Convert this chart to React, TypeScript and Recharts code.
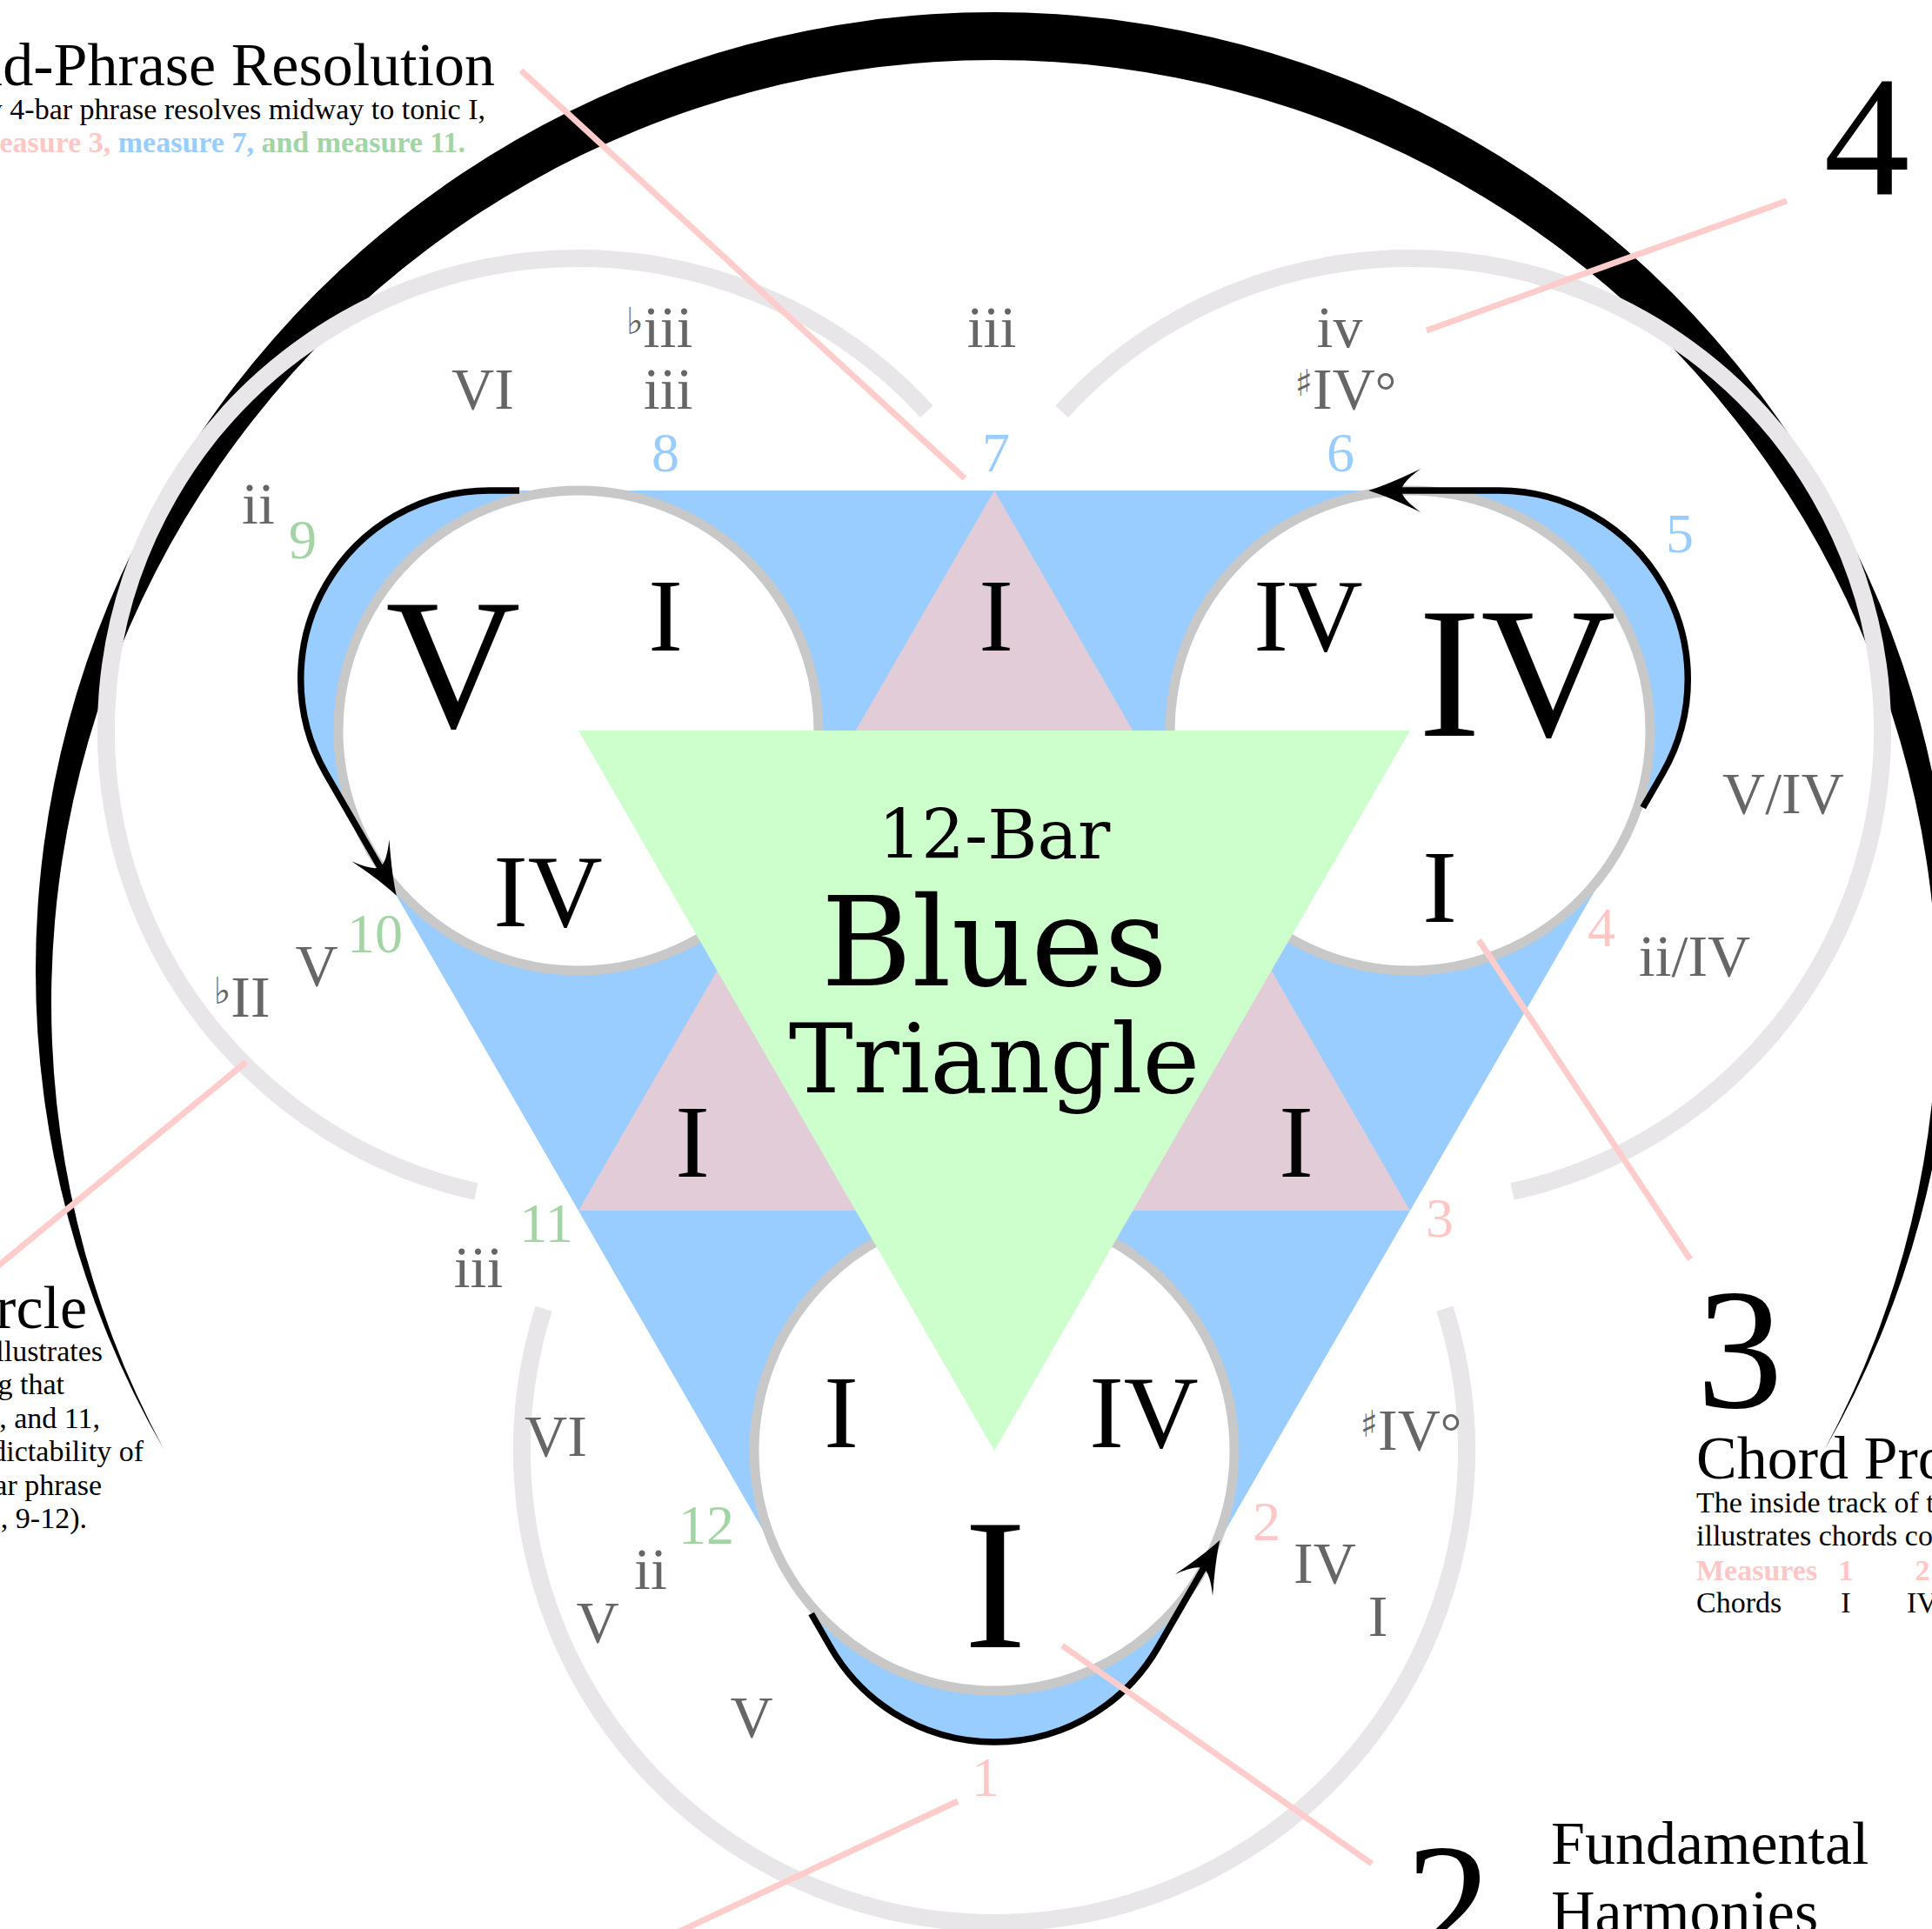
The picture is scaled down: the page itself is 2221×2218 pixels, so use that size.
import React from 'react';
import { ScatterChart, Scatter, XAxis, YAxis } from 'recharts';

const W = 2221;
const H = 2218;

const SERIF = "'Liberation Serif', 'Times New Roman', serif";
const TITLE_SERIF = "'DejaVu Serif', Georgia, serif";
const SYMBOLS = "'DejaVu Sans', sans-serif";

const INK = '#000000';
const GREY_TEXT = '#666666';
const TRACK = '#e8e6e8';
const RING = '#c8c8c8';
const BLUE = '#99ccff';
const MAUVE = '#e1ccd8';
const MINT = '#ccffcc';
const LEADER = '#ffcccc';
const PHRASE_COLORS = ['#ffc6c6', '#99ccff', '#a3d4a3'];

// centre of the figure and circumradius of the two inner triangles (data units)
const hub = { x: 1143, y: 1116 };
const R = 552;

// the three harmony circles sit on the corners of the green triangle
const harmonyAngles = [210, 330, 90];

// chords inside the circles and the pink triangles
const smallChords = ['I', 'IV', 'I', 'IV', 'I', 'I', 'I', 'I', 'IV'];
const smallChordX = [765, 630, 1145, 1504, 1655, 796, 1490, 967, 1315];
const smallChordY = [748, 1065, 748, 748, 1060, 1353, 1353, 1664, 1664];

const bigChords = ['V', 'IV', 'I'];
const bigChordX = [521, 1744, 1144];
const bigChordY = [836, 846, 1894];

// substitutions on the outer track
const subChords = ['♭iii', 'iii', 'VI', 'iii', 'iv', '♯IV°', 'ii', 'V/IV', 'ii/IV', '♭II', 'V', 'iii', 'VI', '♯IV°', 'ii', 'V', 'IV', 'I', 'V'];
const subX = [758, 768, 555, 1140, 1540, 1547, 297, 2050, 1948, 278, 364, 550, 639, 1622, 748, 687, 1523, 1584, 864];
const subY = [399, 470, 470, 399, 399, 470, 602, 935, 1122, 1169, 1133, 1480, 1674, 1667, 1827, 1888, 1820, 1881, 1997];

// measure numbers 1-12 around the track
const measures = ['1', '2', '3', '4', '5', '6', '7', '8', '9', '10', '11', '12'];
const measureX = [1133, 1456, 1655, 1841, 1931, 1541, 1145, 765, 348, 431, 628, 812];
const measureY = [2065, 1771, 1422, 1088, 635, 542, 542, 542, 642, 1095, 1428, 1775];

// pink leader lines from the numbered captions
const leaderFromX = [599, 2054, 1943, 1577, 1101, 283];
const leaderFromY = [81, 231, 1448, 2143, 2071, 1221];
const leaderToX = [1109, 1640, 1700, 1221, 770, -10];
const leaderToY = [550, 380, 1081, 1892, 2226, 1462];

// big caption numerals
const captionNums = ['4', '3', '2'];
const captionX = [2146, 2000, 1665];
const captionY = [223, 1618, 2256];

// centre title
const titleLines = ['12-Bar', 'Blues', 'Triangle'];
const titleY = [987, 1133, 1256];
const titleSize = [78, 142, 111];

// caption texts
const resolutionNote = ['Mid-Phrase Resolution', 'Every 4-bar phrase resolves midway to tonic I,'];
const resolutionMeasures = ['at measure 3,', ' measure 7,', ' and measure 11.'];
const circleNote = ['Substitution Circle', 'The outer track illustrates', 'substitutions, noting that', 'measures 3, 7, and 11,', 'reinforce the predictability of', 'each 4-bar phrase', '(1-4, 5-8, 9-12).'];
const circleNoteEnds = [100, 118, 74, 115, 165, 117, 100];
const progressionNote = ['Chord Progression', 'The inside track of the triangle', 'illustrates chords commonly played'];
const progressionChords = ['I', 'IV', 'I', 'I', 'IV', 'IV', 'I', 'I', 'V', 'IV', 'I', 'V'];
const harmonyNote = ['Fundamental', 'Harmonies'];

const rad = (a: number) => (a * Math.PI) / 180;
const polar = (x: number, y: number, r: number, a: number): [number, number] => [
  x + r * Math.cos(rad(a)),
  y + r * Math.sin(rad(a)),
];
const pt = (p: number[]) => `${p[0].toFixed(1)},${p[1].toFixed(1)}`;

// tables handed to the chart
const hubData = [{ x: hub.x, y: hub.y }];
const harmonyData = harmonyAngles.map((a) => {
  const [x, y] = polar(hub.x, hub.y, R, a);
  return { x, y, angle: a };
});
const smallChordData = smallChords.map((label, i) => ({ label, x: smallChordX[i], y: smallChordY[i] }));
const bigChordData = bigChords.map((label, i) => ({ label, x: bigChordX[i], y: bigChordY[i] }));
const subData = subChords.map((label, i) => ({ label, x: subX[i], y: subY[i] }));
const measureData = measures.map((label, i) => ({ label, x: measureX[i], y: measureY[i], phrase: Math.floor(i / 4) }));
const leaderData = leaderFromX.map((x, i) => ({ x, y: leaderFromY[i], x2: leaderToX[i], y2: leaderToY[i] }));
const captionNumData = captionNums.map((label, i) => ({ label, x: captionX[i], y: captionY[i] }));
const titleData = titleLines.map((label, i) => ({ label, x: hub.x, y: titleY[i], size: titleSize[i] }));

const textData = [
  { label: resolutionNote[0], x: 569, y: 98, size: 70, anchor: 'end' },
  { label: resolutionNote[1], x: 558, y: 137, size: 34, anchor: 'end' },
  ...circleNote.map((label, i) => ({
    label,
    x: circleNoteEnds[i],
    y: i === 0 ? 1527 : 1565 + (i - 1) * 38.4,
    size: i === 0 ? 70 : 34,
    anchor: 'end',
  })),
  ...progressionNote.map((label, i) => ({ label, x: 1950, y: i === 0 ? 1700 : 1700 + i * 38.5, size: i === 0 ? 70 : 34, anchor: 'start' })),
  { label: 'Chords', x: 1950, y: 1854, size: 34, anchor: 'start' },
  ...progressionChords.map((label, i) => ({ label, x: 2122 + i * 88, y: 1854, size: 34, anchor: 'middle' })),
  ...harmonyNote.map((label, i) => ({ label, x: 1783, y: 2143 + i * 79, size: 70, anchor: 'start' })),
];

const measureRowData = [
  { label: 'Measures', x: 1950, y: 1817, anchor: 'start' },
  ...measures.map((label, i) => ({ label, x: 2122 + i * 88, y: 1817, anchor: 'middle' })),
];

// ---------- shapes ----------
const Crescent = (props: any) => {
  const { cx, cy } = props;
  const r1 = 1102;
  const drop = 37;
  const r2 = r1 - 18;
  const oy = (r1 * r1 - r2 * r2 + drop * drop) / (2 * drop);
  const ox = Math.sqrt(r1 * r1 - oy * oy);
  const d = `M${cx - ox},${cy + oy} A${r1},${r1} 0 1 1 ${cx + ox},${cy + oy} A${r2},${r2} 0 1 0 ${cx - ox},${cy + oy} Z`;
  return <path d={d} fill={INK} />;
};

const CORNER = 217;
const cornerCentres = (cx: number, cy: number) =>
  harmonyAngles.map((a) => polar(cx, cy, 2 * R - 2 * CORNER, a));

const BlueTrack = (props: any) => {
  const { cx, cy } = props;
  const [tl, tr, b] = cornerCentres(cx, cy);
  const t = (c: number[], a: number) => polar(c[0], c[1], CORNER, a);
  const p = [t(tl, 270), t(tr, 270), t(tr, 30), t(b, 30), t(b, 150), t(tl, 150)];
  const r = CORNER;
  const d = `M${pt(p[0])} L${pt(p[1])} A${r},${r} 0 0 1 ${pt(p[2])} L${pt(p[3])} A${r},${r} 0 0 1 ${pt(p[4])} L${pt(p[5])} A${r},${r} 0 0 1 ${pt(p[0])} Z`;
  return <path d={d} fill={BLUE} />;
};

// three arrows running round the blue track, each starting where it leaves a circle
const Arrows = (props: any) => {
  const { cx, cy } = props;
  const [tl, tr, b] = cornerCentres(cx, cy);
  const t = (c: number[], a: number) => polar(c[0], c[1], CORNER, a);
  const r = CORNER;
  const along = (p: number[], a: number, s: number) => polar(p[0], p[1], s, a);

  const s1 = [cx + R * Math.cos(rad(210)) - 68, cy - R];
  const tip1 = along(t(tl, 150), 60, 162);
  const d1 = `M${pt(s1)} L${pt(t(tl, 270))} A${r},${r} 0 0 0 ${pt(t(tl, 150))} L${pt(along(tip1, 240, 34))}`;

  const s2 = along(t(tr, 30), 120, 45);
  const tip2 = along(t(tr, 270), 180, 150);
  const d2 = `M${pt(s2)} L${pt(t(tr, 30))} A${r},${r} 0 0 0 ${pt(t(tr, 270))} L${pt(along(tip2, 0, 34))}`;

  const s3 = along(t(b, 150), 240, 45);
  const tip3 = along(t(b, 30), 300, 143);
  const d3 = `M${pt(s3)} L${pt(t(b, 150))} A${r},${r} 0 0 0 ${pt(t(b, 30))} L${pt(along(tip3, 120, 34))}`;

  const heads = [
    { tip: tip1, ang: 60 },
    { tip: tip2, ang: 180 },
    { tip: tip3, ang: -60 },
  ];
  return (
    <g>
      <g fill="none" stroke={INK} strokeWidth={7.5}>
        <path d={d1} />
        <path d={d2} />
        <path d={d3} />
      </g>
      {heads.map((h, i) => (
        <path
          key={i}
          d="M0,0 Q-23,-7 -60,-25 Q-38,-9 -38,0 Q-38,9 -60,25 Q-23,7 0,0 Z"
          transform={`translate(${h.tip[0].toFixed(1)},${h.tip[1].toFixed(1)}) rotate(${h.ang})`}
          fill={INK}
        />
      ))}
    </g>
  );
};

const GreyTrack = (props: any) => {
  const { cx, cy, payload } = props;
  const r = 543;
  const a0 = payload.angle - 107.5;
  const a1 = payload.angle + 107.5;
  const p0 = polar(cx, cy, r, a0);
  const p1 = polar(cx, cy, r, a1);
  return <path d={`M${pt(p0)} A${r},${r} 0 1 1 ${pt(p1)}`} fill="none" stroke={TRACK} strokeWidth={20} />;
};

const HarmonyCircle = (props: any) => (
  <circle cx={props.cx} cy={props.cy} r={R / 2} fill="#ffffff" stroke={RING} strokeWidth={11} />
);

const triangle = (cx: number, cy: number, angles: number[]) =>
  'M' + angles.map((a) => pt(polar(cx, cy, R, a))).join(' L') + ' Z';

const Hexagram = (props: any) => {
  const { cx, cy } = props;
  return (
    <g>
      <path d={triangle(cx, cy, [270, 30, 150])} fill={MAUVE} />
      <path d={triangle(cx, cy, [90, 210, 330])} fill={MINT} />
    </g>
  );
};

const Leader = (props: any) => {
  const { cx, cy, payload } = props;
  const x2 = cx + (payload.x2 - payload.x);
  const y2 = cy + (payload.y2 - payload.y);
  return <line x1={cx} y1={cy} x2={x2} y2={y2} stroke={LEADER} strokeWidth={7} />;
};

const chordParts = (label: string, size: number) => {
  let core = label;
  let pre = '';
  let post = '';
  if (core.startsWith('♭') || core.startsWith('♯')) {
    pre = core[0];
    core = core.slice(1);
  }
  if (core.endsWith('°')) {
    post = '°';
    core = core.slice(0, -1);
  }
  const lift = size * 0.22;
  return (
    <>
      {pre && (
        <tspan fontFamily={SYMBOLS} fontSize={size * 0.62} dy={-lift}>
          {pre}
        </tspan>
      )}
      <tspan dy={pre ? lift : 0}>{core}</tspan>
      {post && <tspan fontSize={size * 0.9}>{post}</tspan>}
    </>
  );
};

const chordLabel = (size: number, fill: string) => (props: any) => (
  <text x={props.cx} y={props.cy} textAnchor="middle" fontFamily={SERIF} fontSize={size} fill={fill}>
    {chordParts(props.payload.label, size)}
  </text>
);

const MeasureLabel = (props: any) => (
  <text x={props.cx} y={props.cy} textAnchor="middle" fontFamily={SERIF} fontSize={64} fill={PHRASE_COLORS[props.payload.phrase]}>
    {props.payload.label}
  </text>
);

const TitleLine = (props: any) => (
  <text x={props.cx} y={props.cy} textAnchor="middle" fontFamily={TITLE_SERIF} fontSize={props.payload.size} fill={INK}>
    {props.payload.label}
  </text>
);

const CaptionLine = (props: any) => (
  <text x={props.cx} y={props.cy} textAnchor={props.payload.anchor} fontFamily={SERIF} fontSize={props.payload.size} fill={INK}>
    {props.payload.label}
  </text>
);

const MeasureRow = (props: any) => (
  <text x={props.cx} y={props.cy} textAnchor={props.payload.anchor} fontFamily={SERIF} fontSize={34} fontWeight={700} fill={PHRASE_COLORS[0]}>
    {props.payload.label}
  </text>
);

const ResolutionMeasures = (props: any) => (
  <text x={props.cx} y={props.cy} textAnchor="end" fontFamily={SERIF} fontSize={34} fontWeight={700}>
    {resolutionMeasures.map((s, i) => (
      <tspan key={i} fill={PHRASE_COLORS[i]}>
        {s}
      </tspan>
    ))}
  </text>
);

const CaptionNumeral = (props: any) => (
  <text x={props.cx} y={props.cy} textAnchor="middle" fontFamily={SERIF} fontSize={198} fill={INK}>
    {props.payload.label}
  </text>
);

export default function App() {
  return (
    <div style={{ position: 'absolute', left: 0, top: 0, width: W, height: H, background: '#ffffff', overflow: 'hidden' }}>
      <ScatterChart width={W} height={H} margin={{ top: 0, right: 0, bottom: 0, left: 0 }}>
        <XAxis type="number" dataKey="x" domain={[0, W]} allowDataOverflow hide height={0} />
        <YAxis type="number" dataKey="y" domain={[0, H]} allowDataOverflow reversed hide width={0} />
        <Scatter data={hubData} shape={Crescent} isAnimationActive={false} />
        <Scatter data={harmonyData} shape={GreyTrack} isAnimationActive={false} />
        <Scatter data={hubData} shape={BlueTrack} isAnimationActive={false} />
        <Scatter data={harmonyData} shape={HarmonyCircle} isAnimationActive={false} />
        <Scatter data={hubData} shape={Arrows} isAnimationActive={false} />
        <Scatter data={hubData} shape={Hexagram} isAnimationActive={false} />
        <Scatter data={leaderData} shape={Leader} isAnimationActive={false} />
        <Scatter data={smallChordData} shape={chordLabel(119, INK)} isAnimationActive={false} />
        <Scatter data={bigChordData} shape={chordLabel(215, INK)} isAnimationActive={false} />
        <Scatter data={subData} shape={chordLabel(68, GREY_TEXT)} isAnimationActive={false} />
        <Scatter data={measureData} shape={MeasureLabel} isAnimationActive={false} />
        <Scatter data={titleData} shape={TitleLine} isAnimationActive={false} />
        <Scatter data={textData} shape={CaptionLine} isAnimationActive={false} />
        <Scatter data={measureRowData} shape={MeasureRow} isAnimationActive={false} />
        <Scatter data={[{ x: 535, y: 175 }]} shape={ResolutionMeasures} isAnimationActive={false} />
        <Scatter data={captionNumData} shape={CaptionNumeral} isAnimationActive={false} />
      </ScatterChart>
    </div>
  );
}
